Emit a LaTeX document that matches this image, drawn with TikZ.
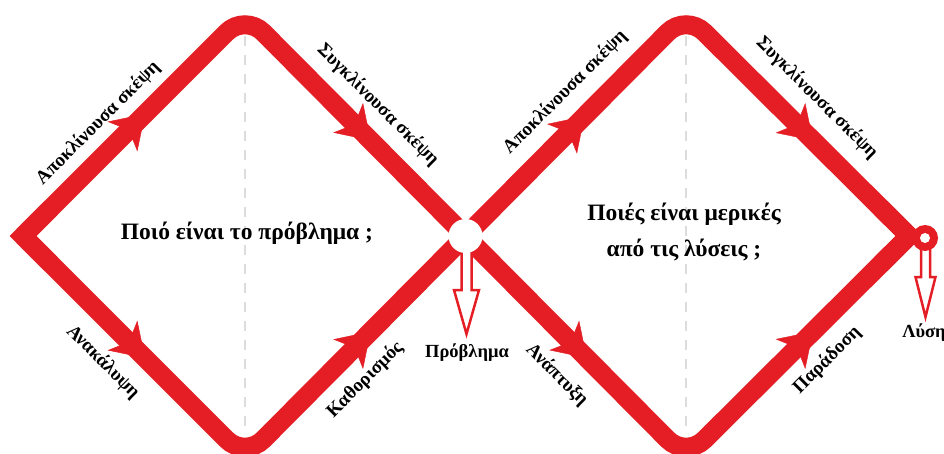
\documentclass[tikz,border=0pt]{standalone}
\usepackage{fontspec}
\setmainfont{Liberation Serif}
\usetikzlibrary{calc,arrows.meta,decorations.markings}
\definecolor{mred}{RGB}{228,30,36}
\definecolor{dgray}{RGB}{220,220,220}
\begin{document}
\begin{tikzpicture}[x=1pt,y=-1pt,
  redline/.style={draw=mred, line width=19pt, line cap=butt},
  guide/.style={draw=dgray, line width=1.5pt, dash pattern=on 10pt off 9pt},
  lab/.style={font=\bfseries\fontsize{19}{22}\selectfont, inner sep=0pt},
  ttl/.style={font=\bfseries\fontsize{23.5}{36}\selectfont, align=center, inner sep=0pt},
  outl/.style={font=\bfseries\fontsize{18.5}{21}\selectfont, inner sep=0pt},
  midarrow/.style={decoration={markings, mark=at position #1 with {\arrow{Stealth[length=32pt,width=42pt,inset=9pt,color=mred,fill=mred]}}}, postaction={decorate}},
  hollow/.style={draw=mred, line width=2.5pt, fill=white, line join=miter}
]
\useasboundingbox[fill=white] (0,0) rectangle (944,454);

% corners
\coordinate (L) at (23,236);
\coordinate (T1) at (245,14);
\coordinate (B1) at (245,458);
\coordinate (C) at (465.5,236);
\coordinate (T2) at (686,14);
\coordinate (B2) at (686,458);
\coordinate (R) at (909,236);

% dashed guides
\coordinate (g1a) at (245,36); \coordinate (g1b) at (245,432);
\coordinate (g2a) at (686,36); \coordinate (g2b) at (686,432);
\draw[guide] (g1a) -- (g1b);
\draw[guide] (g2a) -- (g2b);

% red paths
\draw[redline, rounded corners=26pt] (L) -- (T1) -- (C);
\draw[redline, rounded corners=26pt] (L) -- (B1) -- (C);
\draw[redline, rounded corners=26pt] (C) -- (T2) -- (R);
\draw[redline, rounded corners=26pt] (C) -- (B2) -- (R);
\draw[redline, line join=miter] ($(L)!40pt!(T1)$) -- (L) -- ($(L)!40pt!(B1)$);
\draw[redline, line join=miter] ($(R)!40pt!(T2)$) -- (R) -- ($(R)!40pt!(B2)$);

% arrowheads
\path[midarrow=0.55] (L) -- (T1);
\path[midarrow=0.57] (T1) -- (C);
\path[midarrow=0.55] (L) -- (B1);
\path[midarrow=0.57] (B1) -- (C);
\path[midarrow=0.54] (C) -- (T2);
\path[midarrow=0.57] (T2) -- (R);
\path[midarrow=0.55] (C) -- (B2);
\path[midarrow=0.57] (B2) -- (R);

% hollow arrow from the crossing
\coordinate (hc) at (466.5,244);
\draw[hollow] ($(hc)+(-5,0)$) -- ($(hc)+(-5,46)$) -- ($(hc)+(-12.5,46)$) -- ($(hc)+(0,90)$)
  -- ($(hc)+(12.5,46)$) -- ($(hc)+(5,46)$) -- ($(hc)+(5,0)$) -- cycle;
\fill[white] (C) circle[radius=17];

% hollow arrow from the end ring
\coordinate (rc) at (925,238);
\coordinate (hr) at (925.5,246);
\draw[hollow] ($(hr)+(-4.5,0)$) -- ($(hr)+(-4.5,31)$) -- ($(hr)+(-10,31)$) -- ($(hr)+(0,71)$)
  -- ($(hr)+(10,31)$) -- ($(hr)+(4.5,31)$) -- ($(hr)+(4.5,0)$) -- cycle;
\fill[mred] (rc) circle[radius=13];
\fill[white] (rc) circle[radius=5];

% labels
\node[lab, rotate=45] (a1) at (98,123) {Αποκλίνουσα σκέψη};
\node[lab, rotate=-45] (s1) at (378,105) {Συγκλίνουσα σκέψη};
\node[lab, rotate=-45] (an1) at (103,362) {Ανακάλυψη};
\node[lab, rotate=45] (k1) at (365,380) {Καθορισμός};
\node[outl] (pr) at (467,353) {Πρόβλημα};
\node[lab, rotate=45] (a2) at (565,92) {Αποκλίνουσα σκέψη};
\node[lab, rotate=-45] (s2) at (817,98) {Συγκλίνουσα σκέψη};
\node[lab, rotate=-45] (an2) at (557,375) {Ανάπτυξη};
\node[lab, rotate=45] (p2) at (827,360) {Παράδοση};
\node[outl] (ly) at (924,333) {Λύση};
\node[ttl] (q1) at (247,233) {Ποιό είναι το πρόβλημα ;};
\node[ttl] (q2) at (684,232) {Ποιές είναι μερικές\\από τις λύσεις ;};
\end{tikzpicture}
\end{document}
